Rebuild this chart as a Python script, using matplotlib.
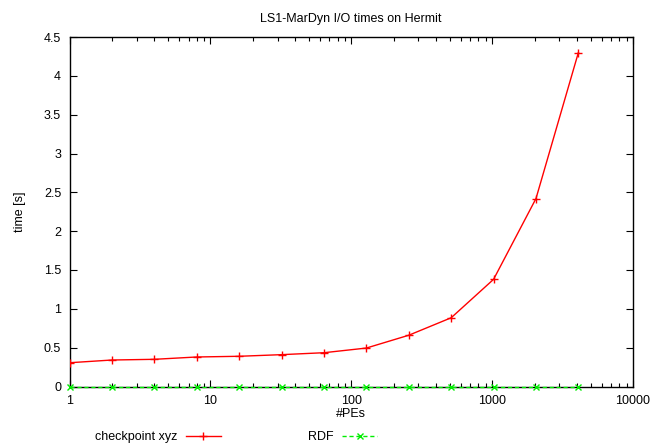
import matplotlib
matplotlib.use("Agg")
import matplotlib.pyplot as plt
from matplotlib.ticker import FixedLocator, LogLocator, NullFormatter, MultipleLocator, FuncFormatter

plt.rcParams['font.family'] = ['Liberation Sans', 'DejaVu Sans']

pes = [1, 2, 4, 8, 16, 32, 64, 128, 256, 512, 1024, 2048, 4096]
checkpoint_xyz = [0.306, 0.341, 0.350, 0.380, 0.389, 0.410, 0.435, 0.495, 0.660, 0.885, 1.38, 2.42, 4.30]
rdf = [0.0] * 13
xticks = [1, 10, 100, 1000, 10000]
title = "LS1-MarDyn I/O times on Hermit"

fig = plt.figure(figsize=(6.54, 4.47), dpi=100)
ax = fig.add_axes([69.5/654, 1-386.5/447, (633-69.5)/654, (386.5-37)/447])

ax.plot(pes, checkpoint_xyz, color='#ff0000', lw=1.0, marker='+', ms=6, mew=1.0, label='checkpoint xyz',
        zorder=3)
ax.plot(pes, rdf, color='#00ee00', lw=1.0, ls=(0, (3, 2)), marker='x', ms=4.5, mew=1.0, label='RDF',
        clip_on=False, zorder=4)

ax.set_xscale('log')
ax.set_xlim(1, 10000)
ax.set_ylim(0, 4.5)
ax.xaxis.set_major_locator(FixedLocator(xticks))
ax.xaxis.set_major_formatter(FuncFormatter(lambda v, p: f"{int(round(v))}"))
ax.xaxis.set_minor_locator(LogLocator(base=10, subs=range(2, 10)))
ax.xaxis.set_minor_formatter(NullFormatter())
ax.yaxis.set_major_locator(MultipleLocator(0.5))
ax.yaxis.set_major_formatter(FuncFormatter(lambda v, p: f"{v:g}"))

ax.tick_params(which='both', direction='in', top=True, right=True, labelsize=9, colors='black')
ax.tick_params(which='major', length=5, width=0.8, pad=6)
ax.tick_params(which='minor', length=3, width=0.8)
for s in ax.spines.values():
    s.set_linewidth(1.0)

ax.set_title(title, fontsize=9, pad=11)
ax.set_xlabel('#PEs', fontsize=9, labelpad=0.5)
ax.set_ylabel('time [s]', fontsize=9, labelpad=13)

ax.legend(loc='center left', bbox_to_anchor=(84/654, 1-437/447), bbox_transform=fig.transFigure,
          ncol=2, markerfirst=False, frameon=False, fontsize=9, handlelength=2.8,
          columnspacing=7.0, handletextpad=0.65)

fig.savefig('out.png', dpi=100)
